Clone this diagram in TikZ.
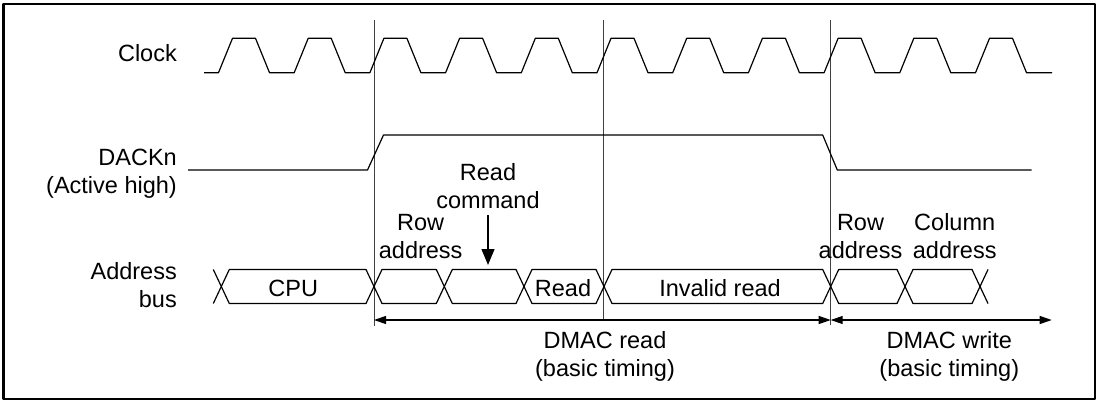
\documentclass[tikz,border=0pt]{standalone}
\usepackage{fontspec}
\setmainfont{Liberation Sans}
\usetikzlibrary{arrows.meta,calc}
\tikzset{
  sig/.style={line width=1.2pt, black},
  guide/.style={line width=0.9pt, black!75},
  lbl/.style={inner sep=0pt, font=\fontsize{23.5}{28.2}\selectfont},
  dimarr/.style={line width=1.1pt, {Triangle[length=12pt,width=8pt]}-{Triangle[length=12pt,width=8pt]}},
  cmdarr/.style={line width=1.2pt, -{Triangle[length=16pt,width=13pt]}},
  every picture/.style={line cap=butt, line join=round}
}

\begin{document}
\begin{tikzpicture}[x=1pt,y=-1pt]
  \useasboundingbox (0,0) rectangle (1099,401);
  \draw[line width=2.5pt] (3.3,4) rectangle (1095,399);

  % signal names (base = last line)
  \node[lbl, anchor=base east] (clk) at (177,61.7) {Clock};
  \node[lbl, anchor=base east, align=right] (dack) at (177,193.2) {DACKn\\(Active high)};
  \node[lbl, anchor=base east, align=right] (abus) at (177,307.3) {Address\\bus};

  % guide lines
  \draw[guide] (374,20) -- (374,326);
  \draw[guide] (603.3,20) -- (603.3,320);
  \draw[guide] (830.7,20) -- (830.7,325);

  % clock
  \draw[sig] (204,72.7) foreach \k in {0,...,10} {
    -- ({218.5+75.7*\k},72.7) -- ({232.5+75.7*\k},38.3)
    -- ({255.5+75.7*\k},38.3) -- ({269.5+75.7*\k},72.7)} -- (1052,72.7);

  % DACKn
  \draw[sig] (188,170) -- (367.5,170) -- (383.5,135) -- (822.7,135)
    -- (837.3,170) -- (1031.7,170);

  % address bus
  \foreach \a/\b in {221.3/374, 374/444.3, 444.3/524, 524/604,
                     604/830.7, 830.7/905, 905/980}
    \draw[sig] (\a,286.5) -- ({\a+8},269.5) -- ({\b-8},269.5) -- (\b,286.5)
      -- ({\b-8},303.5) -- ({\a+8},303.5) -- cycle;
  \draw[sig] (213.3,269.5) -- (221.3,286.5) -- (213.3,303.5);
  \draw[sig] (988,269.5) -- (980,286.5) -- (988,303.5);

  \node[lbl, anchor=base] (cpu) at (293.3,296) {CPU};
  \node[lbl, anchor=base] (rd) at (563,296) {Read};
  \node[lbl, anchor=base] (inv) at (720,296) {Invalid read};

  % cycle labels
  \node[lbl, anchor=base, align=center] (rowR) at (420.7,258.3) {Row\\address};
  \node[lbl, anchor=base, align=center] (rcmd) at (488,208.9) {Read\\command};
  \node[lbl, anchor=base, align=center] (rowW) at (860.5,258.3) {Row\\address};
  \node[lbl, anchor=base, align=center] (colW) at (954.7,258.3) {Column\\address};
  \coordinate (rcTip) at (488,265);
  \draw[cmdarr, shorten <=6pt] (rcmd.south) -- (rcTip);

  % DMAC cycles
  \coordinate (rdL) at (374,320);
  \coordinate (rdR) at (830.7,320);
  \coordinate (wrR) at (1051.7,320);
  \draw[dimarr] (rdL) -- (rdR);
  \draw[dimarr] (rdR) -- (wrR);
  \node[lbl, anchor=base, align=center] (dmacR) at (605,376.5) {DMAC read\\(basic timing)};
  \node[lbl, anchor=base, align=center] (dmacW) at (949.3,376.5) {DMAC write\\(basic timing)};
\end{tikzpicture}
\end{document}
